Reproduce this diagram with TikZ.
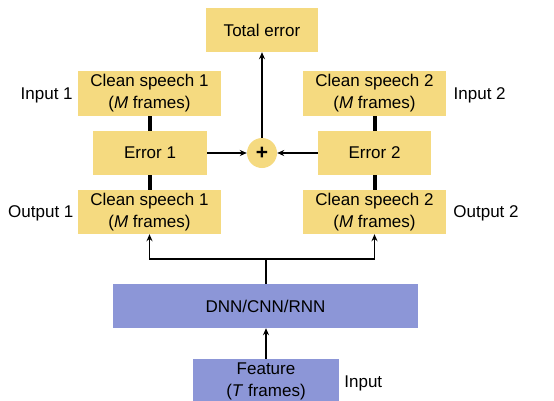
\documentclass[tikz,border=0pt]{standalone}
\usepackage{fontspec}
\setmainfont{Liberation Sans}
\usetikzlibrary{arrows.meta}
\definecolor{ybox}{RGB}{245,218,128}
\definecolor{pbox}{RGB}{140,150,215}
\begin{document}
\begin{tikzpicture}[x=1pt,y=-1pt,
  every node/.style={font=\fontsize{17}{22}\selectfont, inner sep=0pt, align=center},
  ybx/.style={fill=ybox, minimum height=44pt},
  pbx/.style={fill=pbox, minimum height=44pt},
  arr/.style={line width=1.6pt, -{Stealth[length=7pt,width=6pt]}},
  thick line/.style={line width=4pt},
  lbl/.style={}]
\clip (0,0) rectangle (554,400);
\fill[white] (0,0) rectangle (554,400);
\node[ybx, minimum width=112pt] (total) at (262,30) {Total error};
\node[ybx, minimum width=143pt, minimum height=45pt] (cs1in) at (149.5,93.5) {Clean speech 1\\(\textit{M} frames)};
\node[ybx, minimum width=143pt, minimum height=45pt] (cs2in) at (374.5,93.5) {Clean speech 2\\(\textit{M} frames)};
\node[ybx, minimum width=114pt] (err1) at (150,153) {Error 1};
\node[ybx, minimum width=113pt] (err2) at (374.5,153) {Error 2};
\node[circle, fill=ybox, minimum size=30pt, font=\fontsize{21}{22}\selectfont\bfseries] (plus) at (262,153) {+};
\node[ybx, minimum width=143pt] (cs1out) at (149.5,212) {Clean speech 1\\(\textit{M} frames)};
\node[ybx, minimum width=143pt] (cs2out) at (374.5,212) {Clean speech 2\\(\textit{M} frames)};
\node[pbx, minimum width=305pt] (dnn) at (265.5,306) {DNN/CNN/RNN};
\node[pbx, minimum width=146pt, minimum height=45pt] (feat) at (266,381.5) {Feature\\(\textit{T} frames)};
\node[lbl] (in1) at (46.7,95) {Input 1};
\node[lbl] (in2) at (479.7,95) {Input 2};
\node[lbl] (out1) at (40.8,213) {Output 1};
\node[lbl] (out2) at (486,213) {Output 2};
\node[lbl] (inp) at (363.3,383) {Input};
\draw[thick line] (cs1in.south -| err1.north) -- (err1.north);
\draw[thick line] (err1.south) -- (err1.south |- cs1out.north);
\draw[thick line] (cs2in.south -| err2.north) -- (err2.north);
\draw[thick line] (err2.south) -- (err2.south |- cs2out.north);
\draw[arr] (plus.north) -- (plus.north |- total.south);
\draw[arr] (err1.east) -- (plus.west);
\draw[arr] (err2.west) -- (plus.east);
\coordinate (br) at (266,259);
\draw[line width=1.6pt] (dnn.north -| br) -- (br);
\draw[arr] (br) -| (cs1out.south);
\draw[arr] (br) -| (cs2out.south);
\draw[arr] (feat.north) -- (dnn.south -| feat.north);
\end{tikzpicture}
\end{document}
